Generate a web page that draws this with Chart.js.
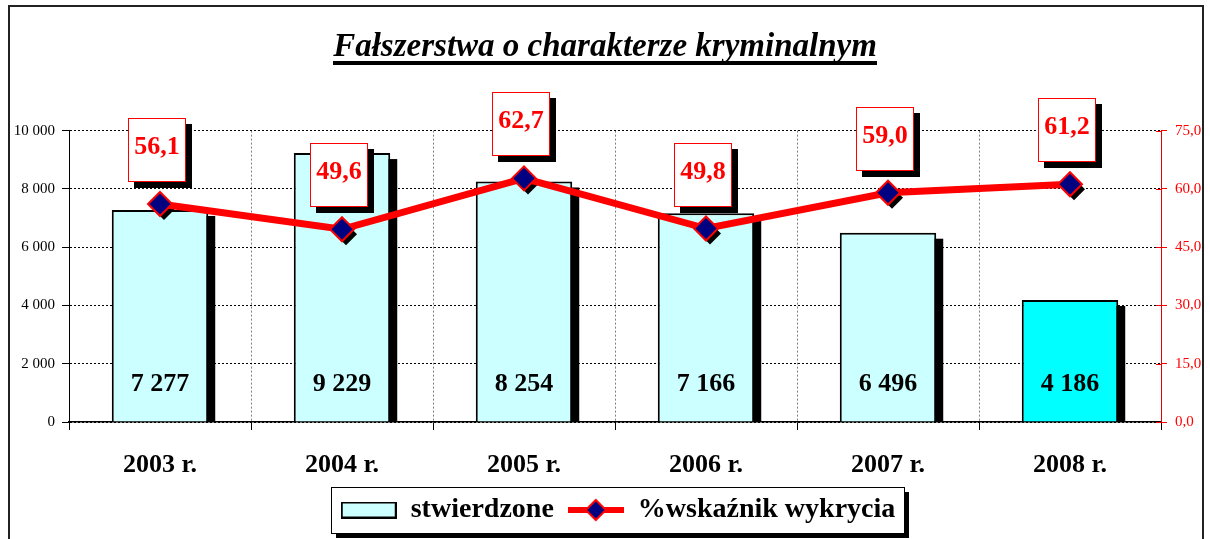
<!DOCTYPE html>
<html>
<head>
<meta charset="utf-8">
<script src="https://cdn.jsdelivr.net/npm/chart.js@4/dist/chart.umd.min.js"></script>
<style>
  html, body { margin: 0; padding: 0; background: #ffffff; }
  #wrap { width: 1210px; height: 539px; position: relative; }
</style>
</head>
<body>
<div id="wrap"><canvas id="c" width="1210" height="539"></canvas></div>
<script>
const chartTitle = 'Fałszerstwa o charakterze kryminalnym';
const categories = ['2003 r.', '2004 r.', '2005 r.', '2006 r.', '2007 r.', '2008 r.'];
const stwierdzone = [7277, 9229, 8254, 7166, 6496, 4186];
const wskaznik = [56.1, 49.6, 62.7, 49.8, 59.0, 61.2];
const barColors = ['#CCFFFF', '#CCFFFF', '#CCFFFF', '#CCFFFF', '#CCFFFF', '#00FFFF'];
const seriesNames = ['stwierdzone', '%wskaźnik wykrycia'];
const leftAxis = { min: 0, max: 10000, step: 2000 };
const rightAxis = { min: 0, max: 75, step: 15 };

const FONT = "'Liberation Serif', 'Times New Roman', serif";
const TITLE_FONT = 'italic bold 33px ' + FONT;

function fmtThousands(v) { return String(v).replace(/\B(?=(\d{3})+(?!\d))/g, ' '); }
function fmtComma(v) { return Number(v).toFixed(1).replace('.', ','); }

function diamondPath(ctx, x, y, r) {
  ctx.beginPath();
  ctx.moveTo(x, y - r); ctx.lineTo(x + r, y); ctx.lineTo(x, y + r); ctx.lineTo(x - r, y); ctx.closePath();
}

// legend swatches
const barSwatch = document.createElement('canvas');
barSwatch.width = 56; barSwatch.height = 17;
(function () {
  const g = barSwatch.getContext('2d');
  g.fillStyle = '#CCFFFF'; g.fillRect(1, 1, 54, 15);
  g.strokeStyle = '#000'; g.lineWidth = 2; g.strokeRect(1, 1, 54, 15);
})();
const lineSwatch = document.createElement('canvas');
lineSwatch.width = 56; lineSwatch.height = 26;
(function () {
  const g = lineSwatch.getContext('2d');
  g.fillStyle = '#FF0000'; g.fillRect(0, 10, 56, 6);
  diamondPath(g, 28, 13, 10);
  g.fillStyle = '#000080'; g.fill();
  g.strokeStyle = '#FF0000'; g.lineWidth = 2; g.stroke();
})();

const LEGEND_SHIFT = 13;

const decorPlugin = {
  id: 'decor',
  afterUpdate(chart) {
    const lg = chart.legend;
    if (lg) {
      lg.left += LEGEND_SHIFT; lg.right += LEGEND_SHIFT;
      (lg.legendHitBoxes || []).forEach(h => { h.left += LEGEND_SHIFT; });
    }
  },
  beforeDraw(chart) {
    const ctx = chart.ctx;
    ctx.save();
    // page frame
    ctx.strokeStyle = '#222'; ctx.lineWidth = 2;
    ctx.strokeRect(9, 6, 1194, 545);
    // legend frame
    const lg = chart.legend;
    if (lg && lg.legendHitBoxes && lg.legendHitBoxes.length) {
      const hb = lg.legendHitBoxes;
      const left = Math.round(hb[0].left - 10);
      const right = Math.round(hb[hb.length - 1].left + hb[hb.length - 1].width + 9);
      const cy = hb[0].top + hb[0].height / 2;
      const top = Math.round(cy - 23), h = 46;
      ctx.fillStyle = '#000';
      ctx.fillRect(left + 5, top + 5, right - left, h);
      ctx.fillStyle = '#fff';
      ctx.fillRect(left, top, right - left, h);
      ctx.strokeStyle = '#000'; ctx.lineWidth = 1;
      ctx.strokeRect(left + 0.5, top + 0.5, right - left, h);
    }
    ctx.restore();
  },
  beforeDatasetDraw(chart, args) {
    const ctx = chart.ctx;
    const area = chart.chartArea;
    if (args.index === 0) {
      ctx.save();
      ctx.beginPath(); ctx.rect(area.left, area.top - 50, area.right - area.left, area.bottom - area.top + 50); ctx.clip();
      ctx.fillStyle = '#000';
      args.meta.data.forEach(b => {
        const p = b.getProps(['x', 'y', 'base', 'width'], true);
        ctx.fillRect(p.x - p.width / 2 + 7, p.y + 6, p.width, p.base - p.y);
      });
      ctx.restore();
    }
    if (args.index === 1) {
      ctx.save();
      ctx.fillStyle = '#000';
      args.meta.data.forEach(pt => {
        const p = pt.getProps(['x', 'y'], true);
        diamondPath(ctx, p.x + 4, p.y + 5, 11);
        ctx.fill();
      });
      ctx.restore();
    }
  },
  afterDatasetsDraw(chart) {
    const ctx = chart.ctx;
    ctx.save();
    // bar value labels
    const bm = chart.getDatasetMeta(0);
    ctx.font = 'bold 26px ' + FONT;
    ctx.fillStyle = '#000'; ctx.textAlign = 'center'; ctx.textBaseline = 'middle';
    bm.data.forEach((b, i) => {
      const p = b.getProps(['x', 'base'], true);
      ctx.fillText(fmtThousands(stwierdzone[i]), p.x, p.base - 37);
    });
    // line value boxes
    const lm = chart.getDatasetMeta(1);
    ctx.font = 'bold 26px ' + FONT;
    lm.data.forEach((pt, i) => {
      const p = pt.getProps(['x', 'y'], true);
      const txt = fmtComma(wskaznik[i]);
      const w = Math.round(ctx.measureText(txt).width + 12);
      const h = 64;
      const left = Math.round(p.x - 3 - w / 2);
      const top = Math.round(p.y - 22 - h);
      ctx.fillStyle = '#000'; ctx.fillRect(left + 6, top + 6, w, h);
      ctx.fillStyle = '#fff'; ctx.fillRect(left, top, w, h);
      ctx.strokeStyle = '#FF0000'; ctx.lineWidth = 1; ctx.strokeRect(left + 0.5, top + 0.5, w - 1, h - 1);
      ctx.fillStyle = '#FF0000';
      ctx.fillText(txt, left + w / 2, top + 29);
    });
    // right axis inner tick marks
    const y1 = chart.scales.y1;
    ctx.strokeStyle = '#FF0000'; ctx.lineWidth = 1;
    y1.ticks.forEach(t => {
      const yy = Math.round(y1.getPixelForValue(t.value)) + 0.5;
      ctx.beginPath(); ctx.moveTo(y1.left - 5, yy); ctx.lineTo(y1.left, yy); ctx.stroke();
    });
    ctx.restore();
  },
  afterDraw(chart) {
    const ctx = chart.ctx;
    const tb = chart.titleBlock;
    ctx.save();
    ctx.font = TITLE_FONT;
    const w = ctx.measureText(chartTitle).width;
    const cx = (tb.left + tb.right) / 2;
    ctx.fillStyle = '#000';
    ctx.fillRect(Math.round(cx - w / 2), tb.top + 61, Math.round(w), 4);
    ctx.restore();
  }
};

new Chart(document.getElementById('c'), {
  data: {
    labels: categories,
    datasets: [
      {
        type: 'bar', label: seriesNames[0], data: stwierdzone, yAxisID: 'y', order: 1,
        backgroundColor: barColors, borderColor: '#000', borderWidth: 2,
        categoryPercentage: 1.0, barPercentage: 0.53
      },
      {
        type: 'line', label: seriesNames[1], data: wskaznik, yAxisID: 'y1', order: 0,
        borderColor: '#FF0000', borderWidth: 7, backgroundColor: '#000080',
        pointStyle: 'rectRot', pointRadius: 12, pointHoverRadius: 12,
        pointBackgroundColor: '#000080', pointBorderColor: '#FF0000', pointBorderWidth: 2,
        tension: 0, fill: false
      }
    ]
  },
  options: {
    responsive: false,
    animation: false,
    layout: { padding: { left: 0, right: 0, top: 0, bottom: 5 } },
    plugins: {
      tooltip: { enabled: false },
      title: {
        display: true, text: chartTitle, color: '#000',
        font: { family: FONT, size: 33, style: 'italic', weight: 'bold', lineHeight: 1.2 },
        padding: { top: 28, bottom: 63 }
      },
      legend: {
        display: true, position: 'bottom',
        labels: {
          usePointStyle: true, pointStyleWidth: 56, boxHeight: 17, padding: 14,
          color: '#000', font: { family: FONT, size: 28, weight: 'bold' },
          generateLabels(chart) {
            return chart.data.datasets.map((ds, i) => ({
              text: ds.label, datasetIndex: i, hidden: false,
              pointStyle: i === 0 ? barSwatch : lineSwatch,
              fillStyle: 'transparent', strokeStyle: 'transparent', lineWidth: 0, fontColor: '#000'
            }));
          }
        }
      }
    },
    scales: {
      x: {
        type: 'category', offset: true,
        grid: { display: true, offset: true, color: '#808080', lineWidth: 1, drawTicks: true, tickLength: 8, tickColor: '#000' },
        border: { display: true, color: '#000', width: 1.5, dash: [2, 2] },
        ticks: { color: '#000', font: { family: FONT, size: 26, weight: 'bold' }, padding: 20, maxRotation: 0 },
        afterFit(scale) { scale.height = 60; }
      },
      y: {
        position: 'left', min: leftAxis.min, max: leftAxis.max,
        grid: { color: '#000', lineWidth: 1, tickLength: 7, tickColor: '#000' },
        border: { display: true, color: '#000', width: 1, dash: [2, 2] },
        ticks: { stepSize: leftAxis.step, color: '#000', font: { family: FONT, size: 15 }, padding: 7, callback: v => fmtThousands(v) },
        afterFit(scale) { scale.width = 69; }
      },
      y1: {
        position: 'right', min: rightAxis.min, max: rightAxis.max,
        grid: { drawOnChartArea: false, tickLength: 6, tickColor: '#FF0000' },
        border: { display: true, color: '#E00000', width: 1 },
        ticks: { stepSize: rightAxis.step, color: '#FF0000', font: { family: FONT, size: 15 }, padding: 8, callback: v => fmtComma(v) },
        afterFit(scale) { scale.width = 49; }
      }
    }
  },
  plugins: [decorPlugin]
});
</script>
</body>
</html>
